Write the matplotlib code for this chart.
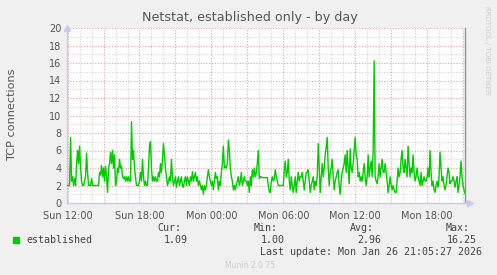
import datetime as dt
import matplotlib
matplotlib.use("Agg")
import matplotlib.pyplot as plt
import matplotlib.dates as mdates
from matplotlib.ticker import MultipleLocator

# 5-minute samples of established TCP connections, starting Sun 25 Jan 2026 11:55
start_time = dt.datetime(2026, 1, 25, 11, 55)
step_minutes = 5
established = [
    2.0, 2.0, 2.0, 2.0, 7.5, 2.5, 3.0, 2.0, 2.8, 2.0, 4.5, 6.0, 4.5, 6.5, 4.0, 2.5, 2.0, 2.0, 2.5, 3.0,
    5.7, 3.5, 2.0, 2.0, 2.0, 2.8, 2.0, 2.0, 2.0, 2.0, 2.0, 2.0, 2.0, 3.5, 3.2, 4.3, 3.0, 4.0, 2.5, 4.2,
    3.0, 1.2, 4.0, 4.5, 5.8, 4.5, 6.0, 4.0, 5.5, 2.0, 2.5, 4.0, 3.5, 5.0, 4.0, 4.2, 3.0, 2.8, 3.0, 2.5,
    3.0, 2.5, 3.0, 2.5, 2.5, 9.3, 5.0, 6.0, 4.0, 3.0, 2.0, 2.0, 2.0, 2.5, 3.5, 2.5, 5.0, 3.0, 2.0, 2.5,
    2.0, 2.0, 4.0, 6.5, 7.0, 4.0, 2.5, 3.0, 2.5, 3.0, 2.5, 2.5, 3.5, 3.0, 4.5, 3.5, 5.0, 6.8, 5.5, 4.0,
    3.0, 2.0, 2.5, 3.0, 2.5, 5.0, 3.0, 2.0, 2.5, 3.0, 1.8, 2.5, 3.0, 2.0, 2.5, 3.0, 2.0, 1.8, 2.5, 3.0,
    2.0, 3.0, 2.5, 2.0, 3.0, 2.5, 3.6, 2.5, 3.0, 3.5, 2.5, 3.0, 2.0, 2.5, 2.0, 1.5, 2.0, 1.0, 2.0, 1.5,
    2.0, 3.0, 3.8, 3.0, 2.5, 2.0, 2.5, 1.5, 2.5, 3.5, 2.8, 3.0, 1.5, 2.5, 2.0, 3.5, 4.5, 6.5, 4.0, 4.2,
    4.0, 4.5, 7.2, 6.0, 4.0, 3.0, 2.5, 1.5, 2.0, 1.5, 2.0, 2.5, 3.0, 2.0, 2.5, 3.5, 2.0, 2.5, 3.0, 2.5,
    2.5, 2.0, 2.5, 1.2, 3.0, 2.0, 3.8, 3.0, 4.0, 3.0, 3.5, 4.5, 6.0, 2.8, 3.0, 3.0, 2.9, 2.9, 2.9, 2.9,
    2.9, 2.9, 2.0, 1.3, 1.2, 2.5, 3.0, 2.5, 2.8, 3.8, 3.0, 2.5, 2.0, 2.0, 2.0, 2.0, 2.0, 2.0, 3.8, 4.8,
    3.0, 3.5, 5.0, 2.5, 1.5, 3.0, 2.0, 1.2, 2.0, 3.0, 1.2, 2.5, 3.5, 2.5, 3.0, 3.0, 3.5, 2.5, 1.5, 2.5,
    3.5, 3.5, 3.8, 2.5, 1.2, 2.0, 2.5, 3.0, 1.5, 2.5, 2.0, 3.0, 6.8, 4.0, 1.2, 3.0, 4.5, 3.0, 4.0, 5.5,
    6.5, 7.5, 4.0, 2.0, 3.5, 4.0, 5.0, 3.0, 1.5, 2.5, 3.0, 3.5, 3.8, 2.0, 1.0, 2.5, 3.5, 4.0, 4.5, 5.5,
    3.5, 6.0, 4.0, 2.2, 6.2, 4.0, 3.5, 4.5, 6.0, 7.5, 5.5, 5.0, 3.0, 3.5, 2.5, 3.0, 2.5, 3.5, 4.5, 3.0,
    2.0, 3.0, 5.5, 3.0, 4.0, 4.8, 3.0, 6.0, 16.25, 3.0, 2.5, 2.2, 3.0, 4.5, 3.0, 4.0, 5.0, 3.5, 3.5, 4.5,
    3.5, 2.5, 1.2, 2.0, 3.0, 2.0, 1.5, 2.0, 1.5, 1.2, 1.2, 2.5, 4.0, 3.0, 3.5, 5.0, 6.0, 4.0, 3.5, 5.0,
    4.0, 3.0, 6.5, 4.5, 3.0, 4.0, 3.5, 5.5, 3.5, 2.5, 3.0, 4.0, 3.0, 2.5, 2.0, 3.5, 2.0, 2.5, 3.0, 2.5,
    2.5, 3.0, 4.0, 3.0, 6.0, 3.5, 2.0, 2.5, 1.5, 1.2, 2.0, 2.5, 1.8, 3.0, 5.8, 4.0, 2.5, 3.0, 2.0, 1.5,
    2.0, 3.0, 4.0, 3.5, 2.2, 2.5, 2.5, 3.0, 2.5, 1.8, 2.5, 3.0, 1.2, 2.0, 3.0, 4.8, 3.0, 2.0, 1.5, 1.09,
]
times = [start_time + dt.timedelta(minutes=step_minutes * i) for i in range(len(established))]

legend_label = "established"
stat_names = ["Cur:", "Min:", "Avg:", "Max:"]
stat_values = ["1.09", "1.00", "2.96", "16.25"]

W, H = 497, 275
fig = plt.figure(figsize=(W / 100, H / 100), dpi=100, facecolor="#f0f0f0")
ax = fig.add_axes([67 / W, (H - 203) / H, (465 - 67) / W, (203 - 28) / H])
ax.set_facecolor("white")

ax.plot(times, established, color="#00cc00", lw=1.0, zorder=3)

ax.set_ylim(0, 20)
ax.set_xlim(dt.datetime(2026, 1, 25, 11, 57), dt.datetime(2026, 1, 26, 21, 10))

ax.yaxis.set_major_locator(MultipleLocator(2))
ax.yaxis.set_minor_locator(MultipleLocator(1))
ax.xaxis.set_major_locator(mdates.HourLocator(byhour=range(0, 24, 6)))
ax.xaxis.set_major_formatter(mdates.DateFormatter("%a %H:%M"))
ax.xaxis.set_minor_locator(mdates.HourLocator())

# munin style grid: gray every hour / unit, red every 3 hours / 2 units
for h in range(0, 34):
    t = dt.datetime(2026, 1, 25, 12) + dt.timedelta(hours=h)
    col = "#e8a0a0" if h % 3 == 0 else "#d4d4d4"
    ax.axvline(t, color=col, lw=0.8, dashes=(1, 1.5), zorder=1)
for v in range(1, 21):
    col = "#e8a0a0" if v % 2 == 0 else "#d4d4d4"
    ax.axhline(v, color=col, lw=0.8, dashes=(1, 1.5), zorder=1)

ax.tick_params(axis="both", which="both", length=0, labelsize=7, colors="#555555")
ax.tick_params(axis="x", pad=5.5)
ax.tick_params(axis="y", pad=4)

ax.spines["top"].set_visible(False)
ax.spines["left"].set_color("#c8c8f0")
ax.spines["bottom"].set_color("#c8c8f0")
ax.spines["right"].set_color("#909090")
for s in ax.spines.values():
    s.set_linewidth(1.0)

# axis arrows
ax.plot([0], [1.0], marker="^", markersize=4, color="#c8c8f0", transform=ax.transAxes, clip_on=False)
ax.plot([1.012], [0], marker=">", markersize=4, color="#c8c8f0", transform=ax.transAxes, clip_on=False)

fig.text(250 / W, 1 - 17 / H, "Netstat, established only - by day", ha="center", va="center",
         fontsize=9.2, color="#555555")
fig.text(12 / W, 1 - 115 / H, "TCP connections", rotation=90, ha="center", va="center",
         fontsize=8.1, color="#555555")
fig.text(487 / W, 1 - 6 / H, "RRDTOOL / TOBI OETIKER", rotation=270, ha="center", va="top",
         fontsize=5, color="#cccccc")

mono = "DejaVu Sans Mono"
fig.patches.append(plt.Rectangle((13 / W, 1 - 243 / H), 6 / W, 6 / H, transform=fig.transFigure,
                                 color="#00cc00"))
fig.text(26 / W, 1 - 240 / H, legend_label, ha="left", va="center", fontsize=7.2,
         family=mono, color="#444444")
stat_right = [181, 278, 374, 470]
for x, name, val in zip(stat_right, stat_names, stat_values):
    fig.text(x / W, 1 - 228 / H, name, ha="right", va="center", fontsize=7.2, family=mono, color="#444444")
    fig.text((x + 7) / W, 1 - 240 / H, val, ha="right", va="center", fontsize=7.2, family=mono, color="#444444")
fig.text(482 / W, 1 - 252 / H, "Last update: Mon Jan 26 21:05:27 2026", ha="right", va="center",
         fontsize=7.2, family=mono, color="#444444")
fig.text(250 / W, 1 - 265 / H, "Munin 2.0.75", ha="center", va="center", fontsize=5.5, color="#cccccc")

fig.savefig("out.png", dpi=100, facecolor=fig.get_facecolor())
